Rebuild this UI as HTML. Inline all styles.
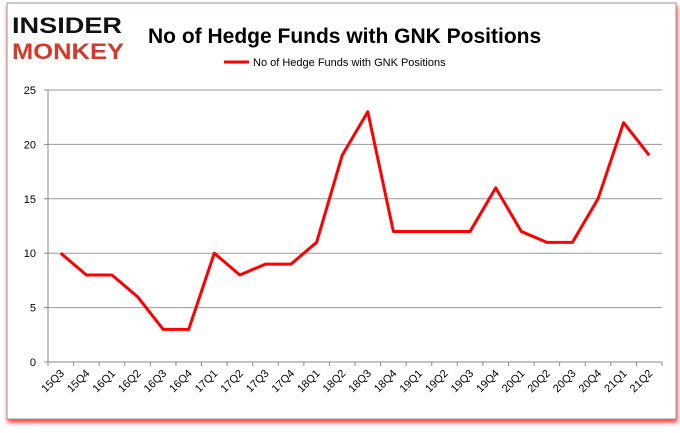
<!DOCTYPE html>
<html><head><meta charset="utf-8"><style>
body{margin:0;background:#fff;font-family:"Liberation Sans",sans-serif}
svg{display:block}
</style></head><body>
<svg width="680" height="433" viewBox="0 0 680 433" xmlns="http://www.w3.org/2000/svg">
<defs><filter id="sh" x="-5%" y="-5%" width="110%" height="115%"><feDropShadow dx="1" dy="3" stdDeviation="2" flood-color="#f00" flood-opacity="0.8"/></filter></defs>
<rect x="7" y="3" width="669" height="416" fill="#fff" stroke="#999" filter="url(#sh)"/>
<g font-family="'Liberation Sans',sans-serif" font-weight="bold" font-size="22">
<text x="12" y="33" fill="#111" textLength="110" lengthAdjust="spacingAndGlyphs">INSIDER</text>
<text x="12" y="59" fill="#d43a2a" textLength="112" lengthAdjust="spacingAndGlyphs">MONKEY</text>
</g>
<text x="148" y="43" font-size="21" font-weight="bold" fill="#000">No of Hedge Funds with GNK Positions</text>
<line x1="224" y1="62" x2="249" y2="62" stroke="#f00" stroke-width="3"/>
<text x="253" y="66" font-size="11" fill="#000">No of Hedge Funds with GNK Positions</text>
<g id="grid"></g><g id="axes"></g><g id="series"></g>
</svg>
<script>
const categories=["15Q3","15Q4","16Q1","16Q2","16Q3","16Q4","17Q1","17Q2","17Q3","17Q4","18Q1","18Q2","18Q3","18Q4","19Q1","19Q2","19Q3","19Q4","20Q1","20Q2","20Q3","20Q4","21Q1","21Q2"];
const values=[10,8,8,6,3,3,10,8,9,9,11,19,23,12,12,12,12,16,12,11,11,15,22,19];
const yTicks=[0,5,10,15,20,25];
const NS="http://www.w3.org/2000/svg";
const L=48,R=662,T=90,B=362,yMax=25;
const step=(R-L)/categories.length;
const xs=i=>L+step*(i+0.5);
const ys=v=>B-(v/yMax)*(B-T);
function mk(tag,attrs,parent,txt){const e=document.createElementNS(NS,tag);for(const k in attrs)e.setAttribute(k,attrs[k]);if(txt!==undefined)e.textContent=txt;document.getElementById(parent).appendChild(e);return e;}
yTicks.forEach(v=>{
 const g=mk('line',{x1:L,x2:R,y1:ys(v),y2:ys(v),stroke:v===0?'#888':'#999','stroke-width':1},'grid');
 
 
 const tk=mk('line',{x1:L-4,x2:L,y1:ys(v),y2:ys(v),stroke:'#888'},'axes');
 
 
 const t=mk('text',{x:L-12,y:ys(v)+4,'font-size':11,'text-anchor':'end',fill:'#000'},'axes',String(v));
 
 
});
const ax=mk('line',{x1:L,x2:L,y1:T,y2:B+4,stroke:'#888'},'axes');


for(let i=0;i<=categories.length;i++){
 const tk=mk('line',{x1:L+step*i,x2:L+step*i,y1:B,y2:B+4,stroke:'#888'},'axes');
 
 
}
categories.forEach((c,i)=>{
 const x=xs(i)+4,y=B+12;
 const t=mk('text',{x:x,y:y,'font-size':11,'text-anchor':'end',fill:'#000',transform:`rotate(-45 ${x} ${y})`},'axes',c);
 
 
});
const p=mk('polyline',{points:values.map((v,i)=>xs(i)+','+ys(v)).join(' '),fill:'none',stroke:'#f00','stroke-width':3,'stroke-linejoin':'round'},'series');


</script>
</body></html>
